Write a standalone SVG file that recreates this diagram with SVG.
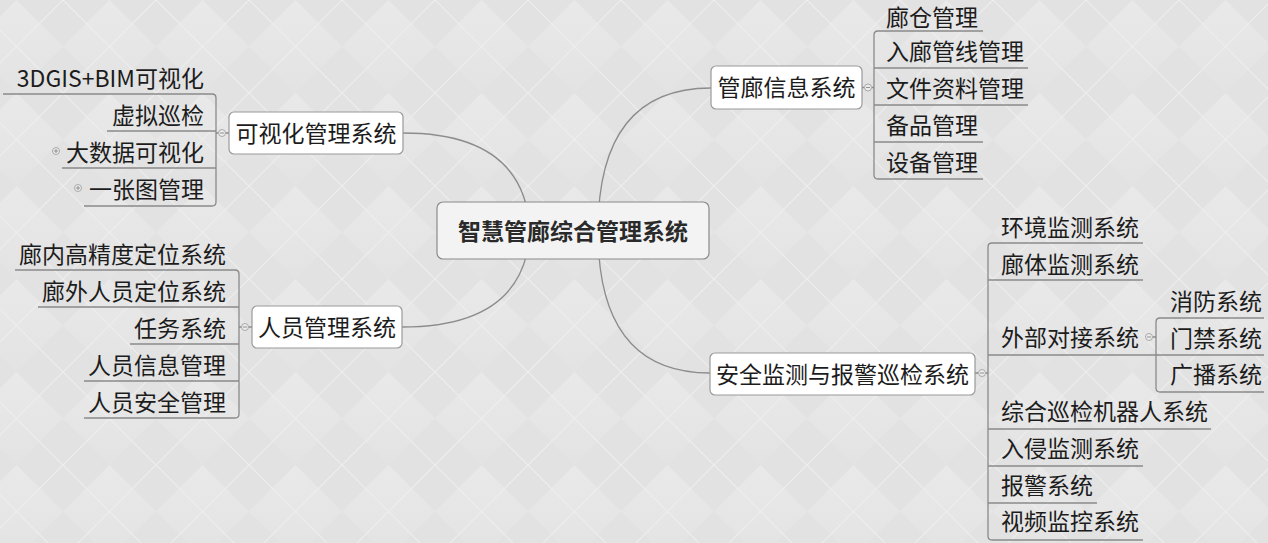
<svg xmlns="http://www.w3.org/2000/svg" width="1268" height="543" viewBox="0 0 1268 543">
<defs>
<linearGradient id="dg" x1="0" y1="0" x2="0" y2="1">
<stop offset="0" stop-color="#e9e9e9"/>
<stop offset="1" stop-color="#e3e3e3"/>
</linearGradient>
<pattern id="bgp" patternUnits="userSpaceOnUse" x="-30" y="0" width="93" height="93">
<rect width="93" height="93" fill="#e2e2e2"/>
<path d="M46.5,0 L93,46.5 L46.5,93 L0,46.5 Z" fill="url(#dg)"/>
<path d="M0,0 L93,93 M93,0 L0,93" stroke="#eeeeee" stroke-width="1.2" fill="none"/>
</pattern>
<style>
.t{font-family:"Noto Sans CJK SC","Liberation Sans",sans-serif;font-size:23px;fill:#1c1c1c;dominant-baseline:central}
.e{text-anchor:end}
.m{text-anchor:middle}
.b{font-weight:bold;fill:#2a2a2a}
.box{fill:#ffffff;stroke:#9a9a9a;stroke-width:1.2}
.cbox{fill:#f3f3f3;stroke:#8a8a8a;stroke-width:1.2}
.ln{fill:none;stroke:#8a8a8a;stroke-width:1.3}
.cv{fill:none;stroke:#8c8c8c;stroke-width:1.3}
.dot{fill:#ececec;stroke:#a8a8a8;stroke-width:1}
.sg{stroke:#909090;stroke-width:1;fill:none}
</style>
</defs>
<rect width="1268" height="543" fill="url(#bgp)"/>

<g id="connectors">
<path class="cv" d="M403,133 Q525,133 530,231"/>
<path class="cv" d="M402,327 Q525,327 530,231"/>
<path class="cv" d="M711,88 Q598,88 598,231"/>
<path class="cv" d="M710,373 Q598,373 598,231"/>
<path class="ln" d="M3,94 H212 Q216,94 216,98 V202 Q216,206 212,206 H84"/>
<path class="ln" d="M107,131 H216 M62,168 H216 M216,133 H218.5 M225.5,133 H229"/>
<path class="ln" d="M15,270 H235 Q239,270 239,274 V414 Q239,418 235,418 H84"/>
<path class="ln" d="M38,307 H239 M130,344 H239 M84,381 H239 M239,327 H241.5 M248.5,327 H252"/>
<path class="ln" d="M983,31 H878 Q874,31 874,35 V175 Q874,179 878,179 H983"/>
<path class="ln" d="M874,68 H1028 M874,105 H1028 M874,142 H983 M862,87.5 H864.5 M871.5,87.5 H874"/>
<path class="ln" d="M1143,243 H992 Q988,243 988,247 V536 Q988,540 992,540 H1143"/>
<path class="ln" d="M988,280 H1143 M988,355 H1156 M988,429 H1211 M988,466 H1143 M988,503 H1097 M975,373 H978.5 M985.5,373 H988"/>
<path class="ln" d="M1264,318 H1160 Q1156,318 1156,322 V388 Q1156,392 1160,392 H1264"/>
<path class="ln" d="M1156,355 H1264 M1152.5,337 H1156"/>
</g>

<g id="root">
<rect class="cbox" x="437" y="202" width="272" height="57" rx="6"/>
<text class="t m b" x="573" y="229.5">智慧管廊综合管理系统</text>
</g>

<g id="n-vis">
<rect class="box" x="229" y="112" width="174" height="42" rx="5"/>
<text class="t m" x="316" y="131.5">可视化管理系统</text>
<circle class="dot" cx="222" cy="133" r="3.5"/><path class="sg" d="M220,133 H224"/>
</g>
<g id="n-vis-1"><text class="t e" x="204" y="76.5">3DGIS+BIM可视化</text></g>
<g id="n-vis-2"><text class="t e" x="204" y="113.5">虚拟巡检</text></g>
<g id="n-vis-3"><text class="t e" x="204" y="150.5">大数据可视化</text>
<circle class="dot" cx="56" cy="151" r="3.5"/><path class="sg" d="M54,151 H58 M56,149 V153"/></g>
<g id="n-vis-4"><text class="t e" x="204" y="187.5">一张图管理</text>
<circle class="dot" cx="78" cy="188" r="3.5"/><path class="sg" d="M76,188 H80 M78,186 V190"/></g>

<g id="n-staff">
<rect class="box" x="252" y="306" width="150" height="42" rx="5"/>
<text class="t m" x="327" y="325.5">人员管理系统</text>
<circle class="dot" cx="245" cy="327" r="3.5"/><path class="sg" d="M243,327 H247"/>
</g>
<g id="n-staff-1"><text class="t e" x="226" y="252.5">廊内高精度定位系统</text></g>
<g id="n-staff-2"><text class="t e" x="226" y="289.5">廊外人员定位系统</text></g>
<g id="n-staff-3"><text class="t e" x="226" y="326.5">任务系统</text></g>
<g id="n-staff-4"><text class="t e" x="226" y="363.5">人员信息管理</text></g>
<g id="n-staff-5"><text class="t e" x="226" y="400.5">人员安全管理</text></g>

<g id="n-info">
<rect class="box" x="711" y="66" width="151" height="43" rx="5"/>
<text class="t m" x="786.5" y="86">管廊信息系统</text>
<circle class="dot" cx="868" cy="87.5" r="3.5"/><path class="sg" d="M866,87.5 H870"/>
</g>
<g id="n-info-1"><text class="t" x="886" y="15.5">廊仓管理</text></g>
<g id="n-info-2"><text class="t" x="886" y="49.5">入廊管线管理</text></g>
<g id="n-info-3"><text class="t" x="886" y="86.5">文件资料管理</text></g>
<g id="n-info-4"><text class="t" x="886" y="123.5">备品管理</text></g>
<g id="n-info-5"><text class="t" x="886" y="160.5">设备管理</text></g>

<g id="n-safe">
<rect class="box" x="710" y="353" width="265" height="42" rx="5"/>
<text class="t m" x="842.5" y="372.5">安全监测与报警巡检系统</text>
<circle class="dot" cx="982" cy="373" r="3.5"/><path class="sg" d="M980,373 H984"/>
</g>
<g id="n-safe-1"><text class="t" x="1001" y="225.5">环境监测系统</text></g>
<g id="n-safe-2"><text class="t" x="1001" y="262.5">廊体监测系统</text></g>
<g id="n-safe-3"><text class="t" x="1001" y="335.5">外部对接系统</text>
<circle class="dot" cx="1149" cy="337" r="3.5"/><path class="sg" d="M1147,337 H1151"/></g>
<g id="n-safe-3-1"><text class="t" x="1170" y="299.5">消防系统</text></g>
<g id="n-safe-3-2"><text class="t" x="1170" y="336.5">门禁系统</text></g>
<g id="n-safe-3-3"><text class="t" x="1170" y="372.5">广播系统</text></g>
<g id="n-safe-4"><text class="t" x="1001" y="409.5">综合巡检机器人系统</text></g>
<g id="n-safe-5"><text class="t" x="1001" y="446.5">入侵监测系统</text></g>
<g id="n-safe-6"><text class="t" x="1001" y="483.5">报警系统</text></g>
<g id="n-safe-7"><text class="t" x="1001" y="519.5">视频监控系统</text></g>
</svg>
